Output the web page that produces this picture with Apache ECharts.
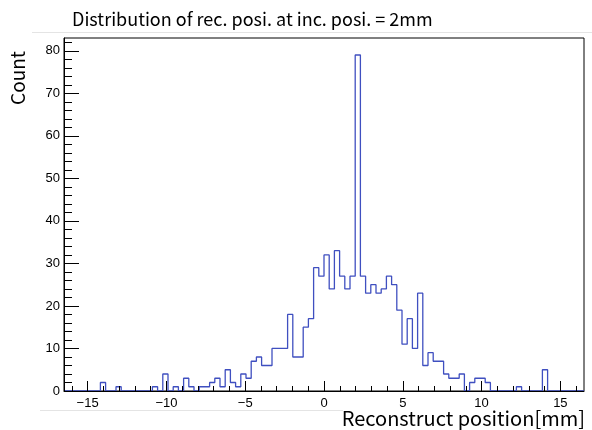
<!DOCTYPE html>
<html>
<head>
<meta charset="utf-8">
<script src="https://cdn.jsdelivr.net/npm/echarts@6/dist/echarts.min.js"></script>
<style>
html,body{margin:0;padding:0;background:#fff;}
#c{width:592px;height:430px;}
</style>
</head>
<body>
<div id="c"></div>
<script>
// Histogram definition
const titleText = 'Distribution of rec. posi. at inc. posi. = 2mm';
const xTitle = 'Reconstruct position[mm]';
const yTitle = 'Count';
const binLow = -16.5;
const binWidth = 0.33;
const counts = [
  0,0,0,0,0,0,0,2,0,0,
  1,0,0,0,0,0,0,1,0,4,
  0,1,0,3,1,0,1,1,2,3,
  1,5,2,1,4,3,7,8,6,6,
  10,10,10,18,8,8,15,17,29,27,
  32,24,33,27,24,27,79,27,23,25,
  23,24,27,25,19,11,17,10,23,6,
  9,7,7,4,3,3,4,0,2,3,
  3,2,0,0,0,0,0,1,0,0,
  0,0,5,0,0,0,0,0,0,0
];
const xMajorTicks = [-15,-10,-5,0,5,10,15];
const xMinorTicks = [-16,-15,-14,-13,-12,-11,-10,-9,-8,-7,-6,-5,-4,-3,-2,-1,0,1,2,3,4,5,6,7,8,9,10,11,12,13,14,15,16];
const yMajorTicks = [0,10,20,30,40,50,60,70,80];
const yMinorTicks = [0,2,4,6,8,10,12,14,16,18,20,22,24,26,28,30,32,34,36,38,40,42,44,46,48,50,52,54,56,58,60,62,64,66,68,70,72,74,76,78,80,82];

const pts = counts.map((c, i) => [binLow + i * binWidth, c]);
pts.push([binLow + counts.length * binWidth, counts[counts.length - 1]]);

const chart = echarts.init(document.getElementById('c'), null, {renderer: 'canvas'});
const labelFont = 'Liberation Sans';
const fmt = v => String(v).replace('-', '\u2212');
chart.setOption({
  animation: false,
  backgroundColor: '#fff',
  grid: {left: 64, right: 8, top: 38, bottom: 39, show: true, borderColor: '#000', borderWidth: 1, backgroundColor: 'transparent'},
  xAxis: [{
    type: 'value', min: -16.5, max: 16.5, z: 5,
    axisLine: {show: true, onZero: false, lineStyle: {color: '#000', width: 1}},
    axisTick: {show: true, inside: true, length: 10, customValues: xMajorTicks, lineStyle: {color: '#000'}},
    axisLabel: {show: true, customValues: xMajorTicks, formatter: fmt, fontSize: 13, fontFamily: labelFont, color: '#000', margin: 6},
    splitLine: {show: false}
  }, {
    type: 'value', min: -16.5, max: 16.5, position: 'bottom', z: 5,
    axisLine: {show: false, onZero: false},
    axisTick: {show: true, inside: true, length: 5, customValues: xMinorTicks, lineStyle: {color: '#000'}},
    axisLabel: {show: false},
    splitLine: {show: false}
  }],
  yAxis: [{
    type: 'value', min: 0, max: 83, z: 5,
    axisLine: {show: true, onZero: false, lineStyle: {color: '#000', width: 1}},
    axisTick: {show: true, inside: true, length: 15, customValues: yMajorTicks, lineStyle: {color: '#000'}},
    axisLabel: {show: true, customValues: yMajorTicks, fontSize: 13, fontFamily: labelFont, color: '#000', margin: 4},
    splitLine: {show: false}
  }, {
    type: 'value', min: 0, max: 83, position: 'left', z: 5,
    axisLine: {show: false, onZero: false},
    axisTick: {show: true, inside: true, length: 8, customValues: yMinorTicks, lineStyle: {color: '#000'}},
    axisLabel: {show: false},
    splitLine: {show: false}
  }],
  series: [{
    type: 'line', xAxisIndex: 0, yAxisIndex: 0, step: 'end', symbol: 'none',
    data: pts, z: 2,
    lineStyle: {color: '#3f4fc0', width: 1.3}
  }],
  graphic: [
    {type: 'line', shape: {x1: 32, y1: 32.5, x2: 592, y2: 32.5}, style: {stroke: '#e4e4e4', lineWidth: 1}},
    {type: 'line', shape: {x1: 40, y1: 410.5, x2: 343, y2: 410.5}, style: {stroke: '#e4e4e4', lineWidth: 1}},
    {type: 'text', left: 72, top: 10, style: {text: titleText, fontSize: 18, fontFamily: 'Noto Sans CJK JP', fill: '#000'}},
    {type: 'text', x: 585, y: 418, style: {text: xTitle, fontSize: 20, fontFamily: 'Noto Sans CJK JP', fill: '#000', align: 'right', verticalAlign: 'middle'}},
    {type: 'text', x: 18, y: 78, rotation: Math.PI / 2, style: {text: yTitle, fontSize: 19, fontFamily: 'Noto Sans CJK JP', fill: '#000', align: 'center', verticalAlign: 'middle'}}
  ]
});
</script>
</body>
</html>
